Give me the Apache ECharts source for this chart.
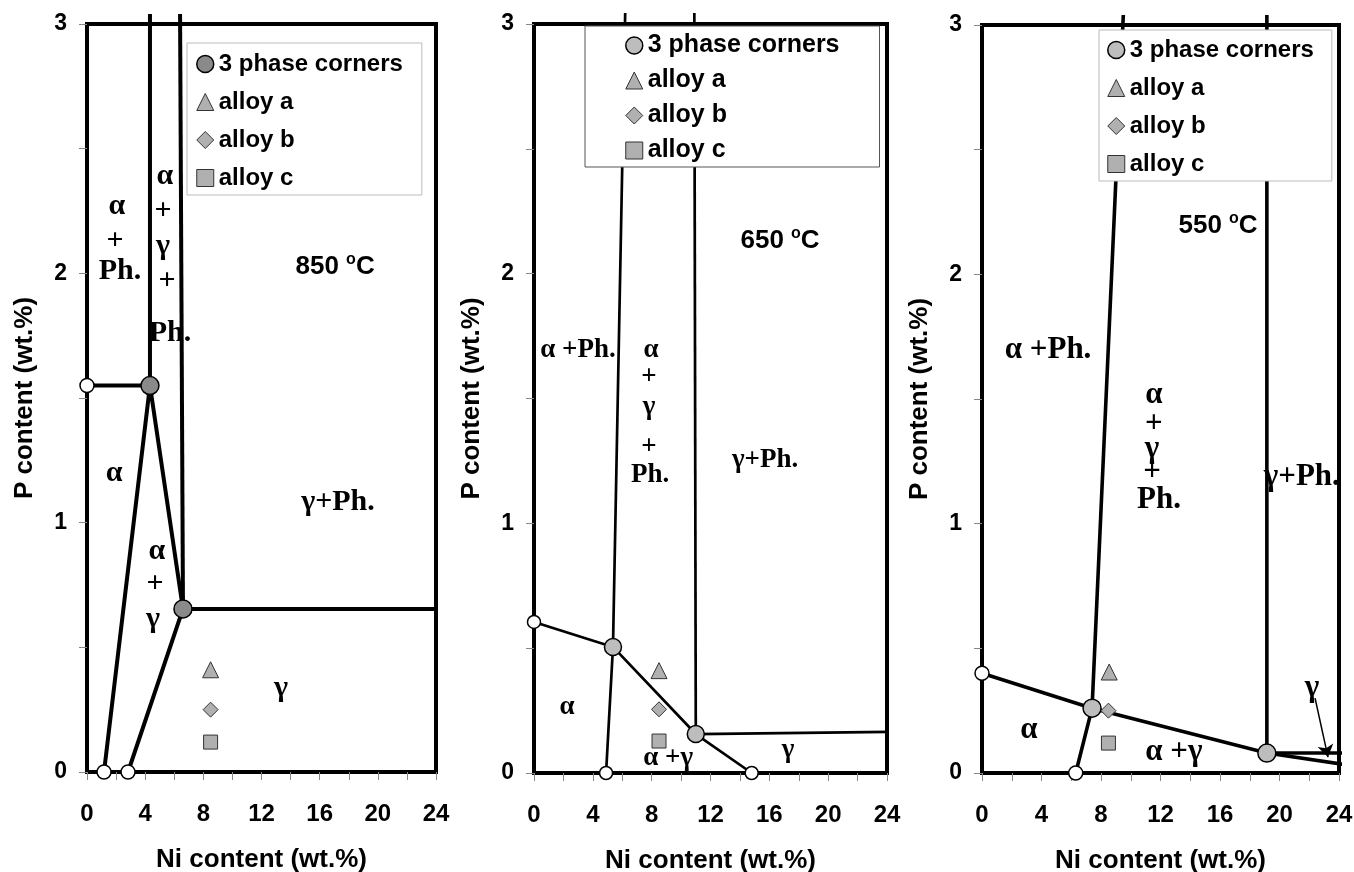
<!DOCTYPE html>
<html><head><meta charset="utf-8">
<script src="https://cdn.jsdelivr.net/npm/echarts@6/dist/echarts.min.js"></script>
<style>html,body{margin:0;padding:0;background:#fff}#c{width:1354px;height:872px}</style>
</head><body><div id="c"></div>
<script>
// ---------- data ----------
const legendNames = ['3 phase corners', 'alloy a', 'alloy b', 'alloy c'];
const xTitle = 'Ni content (wt.%)';
const yTitle = 'P content (wt.%)';
const temps = ['850', '650', '550'];
const tempPos = [[17.06, 2.03], [16.73, 2.135], [15.87, 2.20]];

// phase boundaries [Ni, P]
const p1Lines = [
  [[0, 1.55], [4.33, 1.55]],
  [[1.17, 0], [4.33, 1.55], [6.6, 0.654], [2.82, 0]],
  [[4.33, 1.55], [4.33, 3.04]],
  [[6.6, 0.654], [6.4, 3.04]],
  [[6.6, 0.654], [24.7, 0.654]]
];
const p2Lines = [
  [[0, 0.605], [5.37, 0.505], [11.0, 0.156], [14.8, 0]],
  [[4.9, 0], [5.37, 0.505], [6.2, 3.044]],
  [[11.0, 0.156], [10.9, 3.044]],
  [[11.0, 0.156], [24.7, 0.165]]
];
const p3Lines = [
  [[0, 0.40], [7.4, 0.26], [19.15, 0.08], [24.6, 0.032]],
  [[6.3, 0], [7.4, 0.26], [9.5, 3.04]],
  [[19.15, 0.08], [19.15, 3.04]],
  [[19.15, 0.08], [24.6, 0.08]]
];
const p1Corners = [[4.33, 1.55], [6.6, 0.654]];
const p2Corners = [[5.37, 0.505], [11.0, 0.156]];
const p3Corners = [[7.4, 0.26], [19.15, 0.08]];
const p1Ends = [[0, 1.55], [1.17, 0], [2.82, 0]];
const p2Ends = [[0, 0.605], [4.9, 0], [14.8, 0]];
const p3Ends = [[0, 0.40], [6.3, 0]];
const p1AlloyA = [[8.5, 0.41]], p1AlloyB = [[8.5, 0.25]], p1AlloyC = [[8.5, 0.12]];
const p2AlloyA = [[8.5, 0.41]], p2AlloyB = [[8.5, 0.255]], p2AlloyC = [[8.5, 0.128]];
const p3AlloyA = [[8.55, 0.405]], p3AlloyB = [[8.5, 0.25]], p3AlloyC = [[8.5, 0.12]];
const p3Arrow = [[22.39, 0.30], [23.26, 0.064]];

// region labels [Ni, P, text]
const p1Notes = [
  [2.06, 2.27, 'α'], [1.93, 2.13, '+'], [2.27, 2.01, 'Ph.'],
  [5.36, 2.39, 'α'], [5.23, 2.25, '+'], [5.23, 2.11, 'γ'], [5.50, 1.97, '+'], [5.71, 1.76, 'Ph.'],
  [1.86, 1.20, 'α'], [17.26, 1.08, 'γ+Ph.'],
  [4.81, 0.886, 'α'], [4.68, 0.754, '+'], [4.54, 0.614, 'γ'],
  [13.34, 0.337, 'γ']
];
const p2Notes = [
  [2.99, 1.694, 'α +Ph.'],
  [7.96, 1.694, 'α'], [7.82, 1.586, '+'], [7.82, 1.466, 'γ'], [7.82, 1.306, '+'], [7.89, 1.193, 'Ph.'],
  [15.71, 1.254, 'γ+Ph.'], [2.24, 0.264, 'α'], [9.12, 0.06, 'α +γ'], [17.28, 0.092, 'γ']
];
const p3Notes = [
  [4.44, 1.697, 'α +Ph.'],
  [11.56, 1.516, 'α'], [11.56, 1.40, '+'], [11.43, 1.30, 'γ'], [11.43, 1.207, '+'], [11.9, 1.095, 'Ph.'],
  [21.5, 1.187, 'γ+Ph.'], [3.16, 0.172, 'α'], [12.9, 0.084, 'α +γ'], [22.18, 0.341, 'γ']
];

// ---------- layout / styles ----------
const SANS = '"Liberation Sans", Arial, sans-serif';
const SERIF = '"Liberation Serif", "Times New Roman", serif';
const grids = [
  { left: 87, top: 24, width: 349, height: 748 },
  { left: 534, top: 24, width: 353, height: 749 },
  { left: 982, top: 25, width: 357, height: 748 }
];
const panelStyle = [
  { lw: 4, corner: '#8a8a8a', cornerSize: 18, endSize: 14, serif: 30 },
  { lw: 2.7, corner: '#bdbdbd', cornerSize: 17, endSize: 13, serif: 27 },
  { lw: 3.6, corner: '#bdbdbd', cornerSize: 18, endSize: 14, serif: 31 }
];
const legendBox = [
  { left: 187, top: 43, padding: [9, 19, 5, 9], gap: 14, font: 24, border: '#bbbbbb' },
  { left: 585, top: 26, padding: [7, 40, 4, 40], gap: 10, font: 25, border: '#555555' },
  { left: 1099, top: 30, padding: [8, 18, 5, 8], gap: 14, font: 24, border: '#bbbbbb' }
];
const ALLOY_FILL = '#b0b0b0';

const panels = [
  { lines: p1Lines, corners: p1Corners, ends: p1Ends, a: p1AlloyA, b: p1AlloyB, c: p1AlloyC, notes: p1Notes },
  { lines: p2Lines, corners: p2Corners, ends: p2Ends, a: p2AlloyA, b: p2AlloyB, c: p2AlloyC, notes: p2Notes },
  { lines: p3Lines, corners: p3Corners, ends: p3Ends, a: p3AlloyA, b: p3AlloyB, c: p3AlloyC, notes: p3Notes }
];

const tickStyle = { color: '#888', width: 1 };
const xAxes = [], yAxes = [], series = [], legends = [];
panels.forEach((p, i) => {
  const st = panelStyle[i];
  xAxes.push({
    type: 'value', gridIndex: i, min: 0, max: 24, interval: 4,
    axisLine: { show: false },
    axisTick: { show: true, length: 8, lineStyle: tickStyle },
    minorTick: { show: true, splitNumber: 2, length: 8, lineStyle: tickStyle },
    splitLine: { show: false },
    axisLabel: { fontFamily: SANS, fontWeight: 'bold', fontSize: 24, color: '#000', margin: 30 },
    name: xTitle, nameLocation: 'middle', nameGap: 75,
    nameTextStyle: { fontFamily: SANS, fontWeight: 'bold', fontSize: 26, color: '#000' }
  });
  yAxes.push({
    type: 'value', gridIndex: i, min: 0, max: 3, interval: 1,
    axisLine: { show: false },
    axisTick: { show: true, length: 8, lineStyle: tickStyle },
    minorTick: { show: true, splitNumber: 2, length: 8, lineStyle: tickStyle },
    splitLine: { show: false },
    axisLabel: { fontFamily: SANS, fontWeight: 'bold', fontSize: 23, color: '#000', margin: 20 },
    name: yTitle, nameLocation: 'middle', nameGap: 49,
    nameTextStyle: { fontFamily: SANS, fontWeight: 'bold', fontSize: 26, color: '#000' }
  });
  p.lines.forEach(seg => {
    series.push({
      type: 'line', xAxisIndex: i, yAxisIndex: i, data: seg, symbol: 'none', clip: false,
      lineStyle: { color: '#000', width: st.lw }, silent: true, z: 2, animation: false
    });
  });
  const sc = (name, data, symbol, size, fill, border, bw) => ({
    type: 'scatter', name, xAxisIndex: i, yAxisIndex: i, data, symbol, symbolSize: size, clip: false,
    itemStyle: { color: fill, borderColor: border, borderWidth: bw, opacity: 1 }, z: 4, silent: true, animation: false
  });
  series.push(sc('ends', p.ends, 'circle', st.endSize, '#ffffff', '#000', 1.5));
  series.push(sc(legendNames[0], p.corners, 'circle', st.cornerSize, st.corner, '#000', 1.5));
  series.push(sc(legendNames[1], p.a, 'triangle', 16, ALLOY_FILL, '#333', 1));
  series.push(sc(legendNames[2], p.b, 'diamond', 15, ALLOY_FILL, '#333', 1));
  series.push(sc(legendNames[3], p.c, 'rect', 14, ALLOY_FILL, '#333', 1));
  // region labels
  series.push({
    type: 'scatter', xAxisIndex: i, yAxisIndex: i, symbolSize: 0, clip: false, silent: true, z: 5, animation: false,
    itemStyle: { color: '#000', opacity: 1 },
    data: p.notes.map(n => ({ value: [n[0], n[1]], name: n[2] })),
    label: { show: true, position: 'inside', formatter: '{b}', color: '#000', opacity: 1,
      textBorderWidth: 0, textBorderColor: 'transparent',
      fontFamily: SERIF, fontWeight: 'bold', fontSize: st.serif }
  });
  // temperature label
  series.push({
    type: 'scatter', xAxisIndex: i, yAxisIndex: i, symbolSize: 0, clip: false, silent: true, z: 5, animation: false,
    itemStyle: { color: '#000', opacity: 1 },
    data: [{ value: tempPos[i], name: temps[i] }],
    label: { show: true, position: 'inside', formatter: '{t|{b} }{s|o}{t|C}', opacity: 1,
      textBorderWidth: 0, textBorderColor: 'transparent', color: '#000',
      rich: {
        t: { fontFamily: SANS, fontWeight: 'bold', fontSize: 26, color: '#000', lineHeight: 28, verticalAlign: 'bottom', textBorderWidth: 0 },
        s: { fontFamily: SANS, fontWeight: 'bold', fontSize: 16, color: '#000', lineHeight: 28, verticalAlign: 'top', textBorderWidth: 0 }
      } }
  });
  const lb = legendBox[i];
  legends.push({
    orient: 'vertical', left: lb.left, top: lb.top, padding: lb.padding, itemGap: lb.gap,
    itemWidth: 17, itemHeight: 17, backgroundColor: '#fff', borderColor: lb.border, borderWidth: 1,
    selectedMode: false, z: 10,
    textStyle: { fontFamily: SANS, fontWeight: 'bold', fontSize: lb.font, color: '#000' },
    data: [
      { name: legendNames[0], icon: 'circle', itemStyle: { color: st.corner, borderColor: '#000', borderWidth: 1.5 } },
      { name: legendNames[1], icon: 'triangle', itemStyle: { color: ALLOY_FILL, borderColor: '#333', borderWidth: 1 } },
      { name: legendNames[2], icon: 'diamond', itemStyle: { color: ALLOY_FILL, borderColor: '#333', borderWidth: 1 } },
      { name: legendNames[3], icon: 'rect', itemStyle: { color: ALLOY_FILL, borderColor: '#333', borderWidth: 1 } }
    ]
  });
});
// arrow in panel 3
series.push({
  type: 'lines', coordinateSystem: 'cartesian2d', xAxisIndex: 2, yAxisIndex: 2, silent: true, z: 5,
  symbol: ['none', 'arrow'], symbolSize: 12, animation: false,
  lineStyle: { color: '#000', width: 1.5, opacity: 1 },
  data: [{ coords: p3Arrow }]
});

const chart = echarts.init(document.getElementById('c'), null, { renderer: 'canvas' });
chart.setOption({
  animation: false,
  backgroundColor: '#fff',
  grid: grids.map(g => Object.assign({ show: true, borderColor: '#000', borderWidth: 4, containLabel: false, outerBoundsMode: 'none' }, g)),
  xAxis: xAxes, yAxis: yAxes, legend: legends, series, tooltip: { show: false }
});
</script></body></html>
